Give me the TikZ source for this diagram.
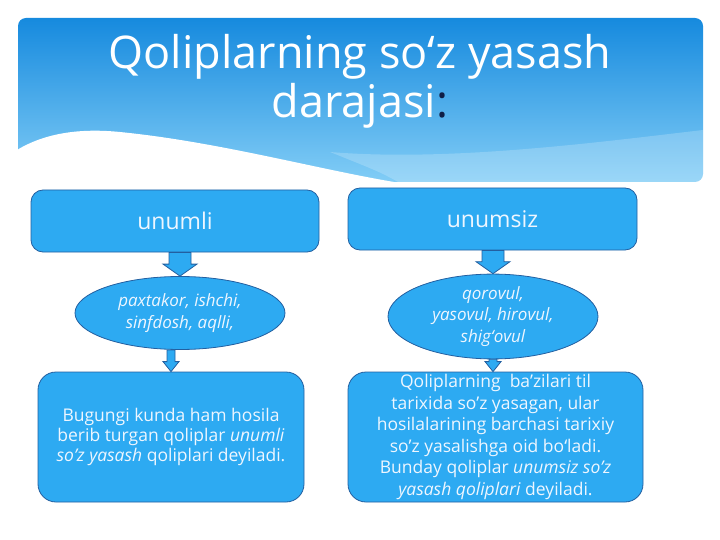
\documentclass[tikz,border=0pt]{standalone}
\usepackage{fontspec}
\setmainfont{Open Sans}
\usetikzlibrary{shapes.geometric,calc}
\definecolor{boxblue}{RGB}{45,170,242}
\definecolor{edgeblue}{RGB}{35,95,160}
\definecolor{toptitle}{RGB}{22,138,222}
\definecolor{lowtitle}{RGB}{130,205,246}
\definecolor{textwhite}{RGB}{238,246,255}
\definecolor{colonblue}{RGB}{15,30,70}
\tikzset{
  box/.style={draw=edgeblue,fill=boxblue,rounded corners=12pt,line width=0.8,text=textwhite,align=center,inner sep=0},
  oval/.style={ellipse,draw=edgeblue,fill=boxblue,line width=0.8,text=textwhite,align=center,inner sep=0,font=\fontsize{17}{21.5}\selectfont\itshape},
  bigarrow/.style={draw=edgeblue,fill=boxblue,line width=0.8,
    to path={let \p1=(\tikztostart),\p2=(\tikztotarget) in
      (\x1-11pt,\y1) -- (\x1+11pt,\y1) -- (\x1+11pt,\y2+12pt) -- (\x1+17pt,\y2+12pt)
      -- (\x1,\y2) -- (\x1-17pt,\y2+12pt) -- (\x1-11pt,\y2+12pt) -- cycle}},
  smallarrow/.style={draw=edgeblue,fill=boxblue,line width=0.8,
    to path={let \p1=(\tikztostart),\p2=(\tikztotarget) in
      (\x1-4pt,\y1) -- (\x1+4pt,\y1) -- (\x1+4pt,\y2+10pt) -- (\x1+8pt,\y2+10pt)
      -- (\x1,\y2) -- (\x1-8pt,\y2+10pt) -- (\x1-4pt,\y2+10pt) -- cycle}}
}
\begin{document}
\begin{tikzpicture}[x=1pt,y=-1pt]
\useasboundingbox (0,0) rectangle (720,540);
% header
\shade[top color=toptitle,bottom color=lowtitle,rounded corners=8pt] (18,18) rectangle (703,182);
\fill[white,opacity=0.2] (330,152) .. controls (450,162) and (600,142) .. (703,130) -- (703,182) -- (400,183) .. controls (380,172) .. (330,152);
\fill[white] (17,150) .. controls (45,133) and (80,128) .. (120,132) .. controls (220,142) and (320,170) .. (400,183) -- (17,183) -- cycle;
\node[font=\fontsize{45}{49}\selectfont,text=white,align=center] (title) at (360,81) {Qoliplarning so‘z yasash\\darajasi\textcolor{colonblue}{:}};

% top row
\node[box,minimum width=288,minimum height=62,font=\fontsize{23}{26}\selectfont] (top1) at (175,221) {unumli};
\node[box,minimum width=289,minimum height=62,font=\fontsize{23}{26}\selectfont] (top2) at (492.5,219) {unumsiz};

% examples
\node[oval,minimum width=210,minimum height=73] (oval1) at (180,313) {paxtakor, ishchi,\\sinfdosh, aqlli,};
\node[oval,minimum width=210,minimum height=79] (oval2) at (493,316.5) {qorovul,\\yasovul, hirovul,\\shig‘ovul};

% explanations
\node[box,rounded corners=18pt,minimum width=266,minimum height=130,font=\fontsize{17.5}{20}\selectfont] (bot1) at (171,437) {Bugungi kunda ham hosila\\berib turgan qoliplar \textit{unumli}\\\textit{so’z yasash} qoliplari deyiladi.};
\node[box,rounded corners=18pt,minimum width=295,minimum height=130,font=\fontsize{17.5}{21.6}\selectfont] (bot2) at (495.5,437) {Qoliplarning\ \ ba’zilari til\\tarixida so’z yasagan, ular\\hosilalarining barchasi tarixiy\\so’z yasalishga oid bo‘ladi.\\Bunday qoliplar \textit{unumsiz so’z}\\\textit{yasash qoliplari} deyiladi.};

% arrows
\draw[bigarrow] (oval1.north |- top1.south) to (oval1.north);
\draw[bigarrow] (oval2.north |- top2.south) to (oval2.north);
\draw[smallarrow] (bot1.north |- oval1.south) to (bot1.north);
\draw[smallarrow] (oval2.south) to (oval2.south |- bot2.north);
\end{tikzpicture}
\end{document}
